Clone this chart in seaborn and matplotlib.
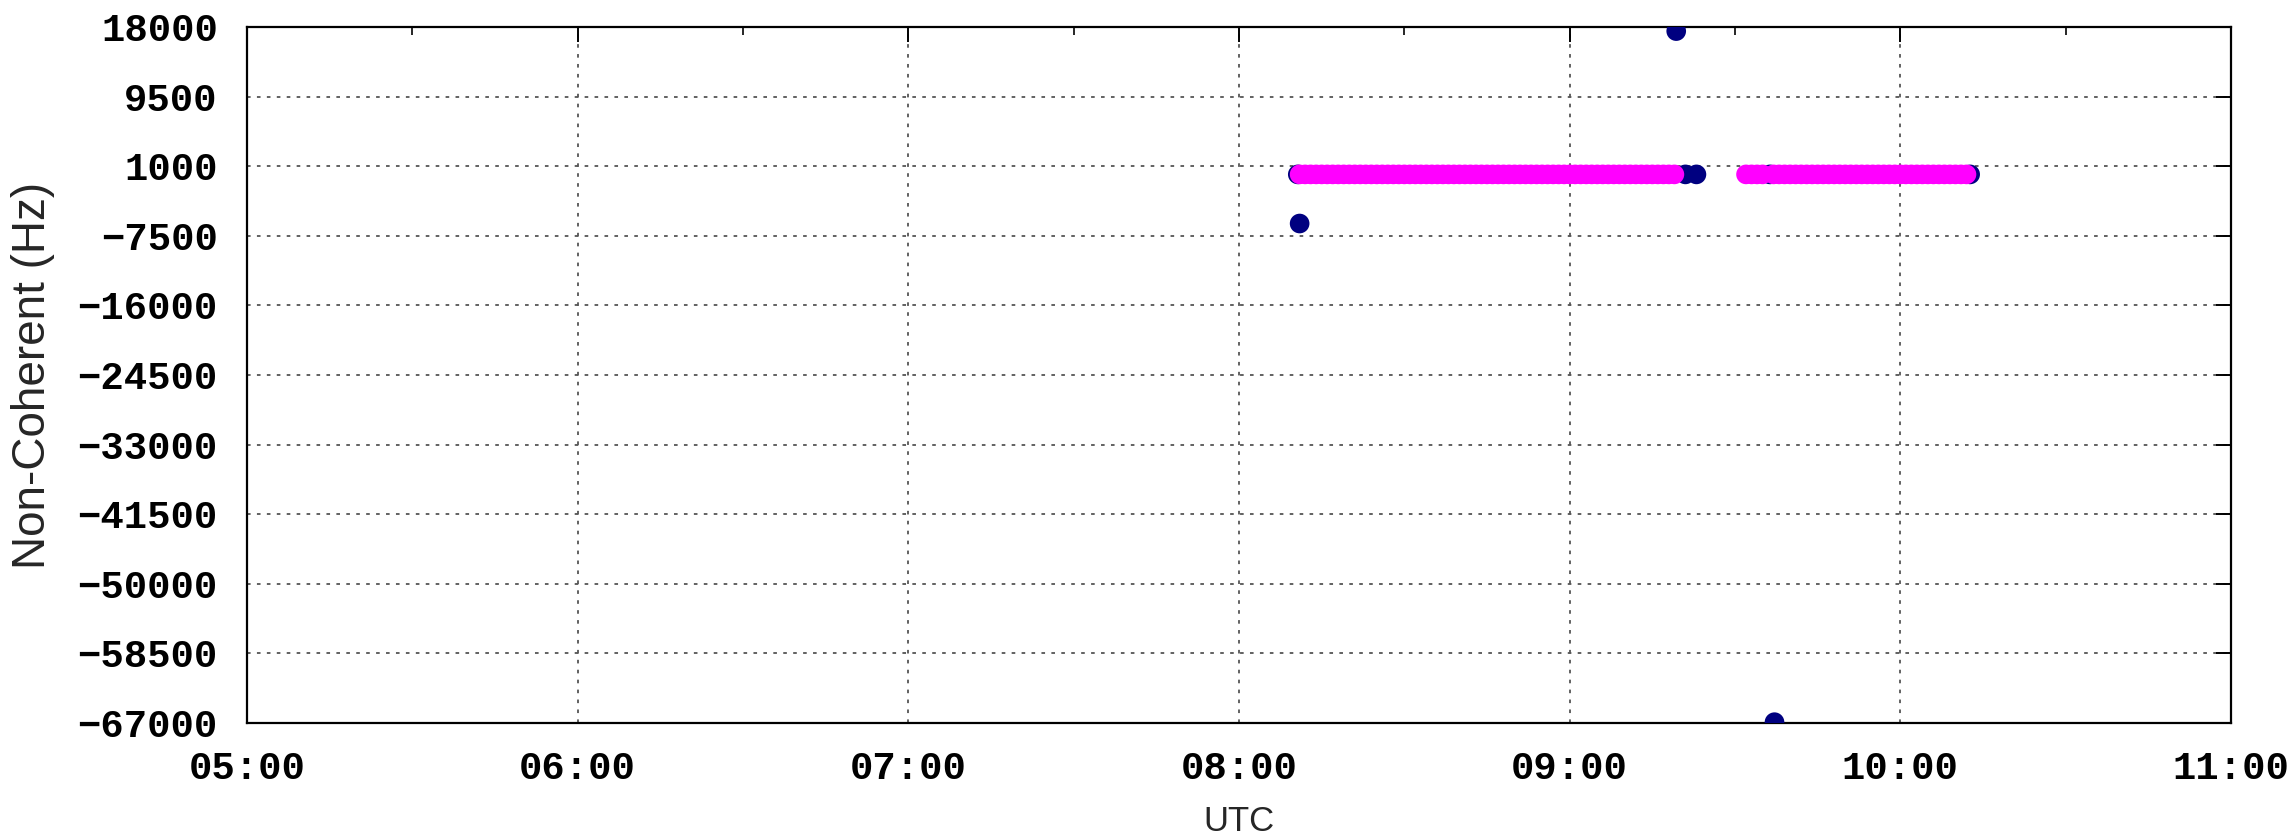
import pandas as pd
import numpy as np
import matplotlib
matplotlib.use('Agg')
import matplotlib.pyplot as plt
import matplotlib.dates as mdates
import seaborn as sns

# --- values ---
# pink series: dense run of samples near 0 Hz (one per minute)
pink_times = [
    '08:11', '08:12', '08:13', '08:14', '08:15', '08:16', '08:17', '08:18', '08:19', '08:20',
    '08:21', '08:22', '08:23', '08:24', '08:25', '08:26', '08:27', '08:28', '08:29', '08:30',
    '08:31', '08:32', '08:33', '08:34', '08:35', '08:36', '08:37', '08:38', '08:39', '08:40',
    '08:41', '08:42', '08:43', '08:44', '08:45', '08:46', '08:47', '08:48', '08:49', '08:50',
    '08:51', '08:52', '08:53', '08:54', '08:55', '08:56', '08:57', '08:58', '08:59', '09:00',
    '09:01', '09:02', '09:03', '09:04', '09:05', '09:06', '09:07', '09:08', '09:09', '09:10',
    '09:11', '09:12', '09:13', '09:14', '09:15', '09:16', '09:17', '09:18', '09:19',
    '09:32', '09:33', '09:34', '09:35',
    '09:37', '09:38', '09:39', '09:40', '09:41', '09:42', '09:43', '09:44', '09:45', '09:46',
    '09:47', '09:48', '09:49', '09:50', '09:51', '09:52', '09:53', '09:54', '09:55', '09:56',
    '09:57', '09:58', '09:59', '10:00', '10:01', '10:02', '10:03', '10:04', '10:05', '10:06',
    '10:07', '10:08', '10:09', '10:10', '10:11', '10:12',
]
pink_hz = [0] * len(pink_times)

# blue series: outliers and segment edges
blue_times = ['08:10:40', '08:11:00', '09:19:20', '09:21:00', '09:23:00', '09:36:20', '09:37:10', '10:12:40']
blue_hz = [0, -6000, 17500, 0, 0, 0, -66900, 0]

y_ticks = [18000, 9500, 1000, -7500, -16000, -24500, -33000, -41500, -50000, -58500, -67000]
x_range = ['05:00', '11:00']

day = '2000-01-01 '
blue = pd.DataFrame({'time': pd.to_datetime([day + t for t in blue_times]), 'hz': blue_hz, 'series': 'blue'})
pink = pd.DataFrame({'time': pd.to_datetime([day + t for t in pink_times]), 'hz': pink_hz, 'series': 'pink'})
df = pd.concat([blue, pink], ignore_index=True)

sns.set_style('white')
plt.rcParams['font.family'] = ['Liberation Sans', 'DejaVu Sans']

fig = plt.figure(figsize=(22.92, 8.38), dpi=100)
ax = fig.add_axes([0.10777, 0.13723, 0.86562, 0.83055])

sns.scatterplot(data=df, x='time', y='hz', hue='series',
                palette={'blue': '#000080', 'pink': '#ff00ff'},
                s=200, marker='o', linewidth=0, legend=False, ax=ax, zorder=3)

ax.set_xlim(pd.to_datetime(day + x_range[0]), pd.to_datetime(day + x_range[1]))
ax.set_ylim(min(y_ticks), max(y_ticks))
ax.set_yticks(y_ticks)
ax.xaxis.set_major_locator(mdates.HourLocator())
ax.xaxis.set_minor_locator(mdates.MinuteLocator(byminute=[30]))
ax.xaxis.set_major_formatter(mdates.DateFormatter('%H:%M'))

ax.grid(True, which='major', color='#555555', linestyle=(0, (2, 3.5)), linewidth=1.3)
ax.set_axisbelow(True)
for sp in ax.spines.values():
    sp.set_visible(True)
    sp.set_color('black')
    sp.set_linewidth(1.6)

ax.tick_params(axis='both', which='major', direction='in', length=11, width=1.4,
               top=True, right=True, colors='black')
ax.tick_params(axis='x', which='minor', direction='in', length=6, width=1.4, top=True)
ax.tick_params(axis='x', which='major', pad=20)
ax.tick_params(axis='y', which='major', pad=21)
for lab in ax.get_xticklabels() + ax.get_yticklabels():
    lab.set_fontfamily('Liberation Mono')
    lab.set_fontweight('bold')
    lab.set_fontsize(28)

ax.set_xlabel('UTC', fontsize=25)
ax.set_ylabel('Non-Coherent (Hz)', fontsize=33)
ax.xaxis.set_label_coords(0.5, -0.118)
ax.yaxis.set_label_coords(-0.097, 0.5)

fig.savefig('out.png', dpi=100)
